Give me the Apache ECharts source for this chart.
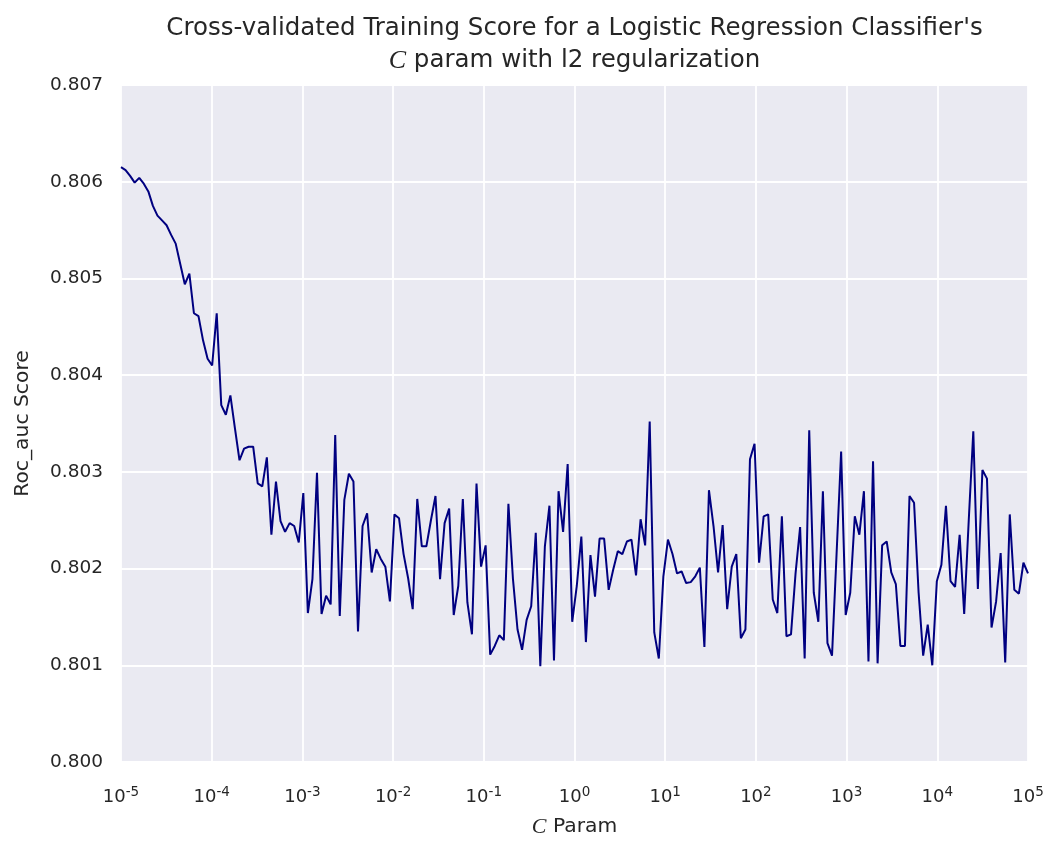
<!DOCTYPE html>
<html>
<head>
<meta charset="utf-8">
<script src="https://cdn.jsdelivr.net/npm/echarts@6/dist/echarts.min.js"></script>
<style>
html,body{margin:0;padding:0;background:#fff;}
#chart{width:1053px;height:843px;}
</style>
</head>
<body>
<div id="chart"></div>
<script>
// C parameter grid: np.logspace(-5, 5, 200)
const cExpMin = -5, cExpMax = 5, nPoints = 200;
const cParams = Array.from({length: nPoints}, (_, i) => Math.pow(10, cExpMin + (cExpMax - cExpMin) * i / (nPoints - 1)));

// Cross-validated roc_auc scores
const scores = [
0.80615,0.80612,0.80606,0.80599,0.80604,0.80598,0.80590,0.80575,0.80565,0.80560,
0.80555,0.80545,0.80536,0.80515,0.80494,0.80505,0.80464,0.80461,0.80436,0.80417,
0.80410,0.80464,0.80369,0.80359,0.80379,0.80345,0.80312,0.80324,0.80326,0.80326,
0.80288,0.80285,0.80315,0.80235,0.80290,0.80249,0.80238,0.80247,0.80244,0.80227,
0.80278,0.80154,0.80189,0.80299,0.80153,0.80172,0.80163,0.80338,0.80151,0.80271,
0.80298,0.80290,0.80135,0.80244,0.80257,0.80196,0.80220,0.80210,0.80202,0.80166,
0.80256,0.80252,0.80215,0.80190,0.80158,0.80272,0.80223,0.80223,0.80250,0.80275,
0.80189,0.80247,0.80262,0.80152,0.80182,0.80272,0.80165,0.80132,0.80288,0.80202,
0.80224,0.80111,0.80120,0.80131,0.80126,0.80267,0.80189,0.80137,0.80116,0.80147,
0.80161,0.80237,0.80099,0.80223,0.80265,0.80105,0.80280,0.80238,0.80308,0.80145,
0.80182,0.80233,0.80124,0.80214,0.80171,0.80231,0.80231,0.80178,0.80199,0.80218,
0.80215,0.80228,0.80230,0.80193,0.80251,0.80224,0.80352,0.80134,0.80107,0.80192,
0.80230,0.80215,0.80195,0.80197,0.80185,0.80186,0.80192,0.80201,0.80119,0.80281,
0.80244,0.80196,0.80245,0.80158,0.80202,0.80215,0.80128,0.80137,0.80313,0.80329,
0.80206,0.80254,0.80256,0.80168,0.80154,0.80254,0.80130,0.80132,0.80195,0.80243,
0.80107,0.80343,0.80175,0.80145,0.80280,0.80123,0.80110,0.80215,0.80321,0.80152,
0.80175,0.80254,0.80235,0.80280,0.80104,0.80311,0.80102,0.80224,0.80228,0.80196,
0.80184,0.80120,0.80120,0.80275,0.80268,0.80175,0.80110,0.80142,0.80100,0.80187,
0.80204,0.80265,0.80187,0.80181,0.80235,0.80153,0.80250,0.80342,0.80179,0.80302,
0.80293,0.80139,0.80166,0.80216,0.80103,0.80256,0.80178,0.80174,0.80206,0.80195
];

const yMin = 0.800, yMax = 0.807, yStep = 0.001;
const titleLine1 = "Cross-validated Training Score for a Logistic Regression Classifier's";
const titleLine2 = " param with l2 regularization";
const xName = " Param";
const yName = "Roc_auc Score";

const textColor = '#262626';
const font = 'DejaVu Sans';
const mathFont = 'Liberation Serif';

const chart = echarts.init(document.getElementById('chart'), null, {renderer: 'canvas'});
const gridL = 121, gridR = 25, gridT = 85, gridB = 80;
const plotCenterX = gridL + (1053 - gridL - gridR) / 2;

chart.setOption({
  backgroundColor: '#ffffff',
  animation: false,
  graphic: [
    {type: 'text', x: plotCenterX, y: 29, style: {text: titleLine1, fill: textColor, font: '24.5px "DejaVu Sans"', align: 'center', verticalAlign: 'middle'}},
    {type: 'text', x: plotCenterX, y: 61, style: {
      text: '{m|C}{t|' + titleLine2 + '}', align: 'center', verticalAlign: 'middle',
      rich: {
        m: {fontFamily: mathFont, fontStyle: 'italic', fontSize: 26, fill: textColor, color: textColor},
        t: {fontFamily: font, fontSize: 24.5, fill: textColor, color: textColor}
      }
    }}
  ],
  grid: {left: gridL, right: gridR, top: gridT, bottom: gridB, show: true, backgroundColor: '#EAEAF2', borderWidth: 0},
  xAxis: {
    type: 'log', logBase: 10, min: Math.pow(10, cExpMin), max: Math.pow(10, cExpMax), interval: 1,
    axisLine: {show: false}, axisTick: {show: false},
    splitLine: {show: true, lineStyle: {color: '#ffffff', width: 1.8}},
    minorSplitLine: {show: false},
    axisLabel: {
      margin: 23,
      formatter: function (v) {
        const e = Math.round(Math.log10(v));
        return '{b|10}{s|' + e + '}';
      },
      rich: {
        b: {fontFamily: font, fontSize: 18, color: textColor},
        s: {fontFamily: font, fontSize: 13.5, color: textColor, padding: [0, 0, 10, 0]}
      }
    },
    name: '{m|C}{t|' + xName + '}', nameLocation: 'middle', nameGap: 54,
    nameTextStyle: {
      rich: {
        m: {fontFamily: mathFont, fontStyle: 'italic', fontSize: 22, color: textColor},
        t: {fontFamily: font, fontSize: 20.3, color: textColor}
      }
    }
  },
  yAxis: {
    type: 'value', min: yMin, max: yMax, interval: yStep,
    axisLine: {show: false}, axisTick: {show: false},
    splitLine: {show: true, lineStyle: {color: '#ffffff', width: 1.8}},
    axisLabel: {margin: 18, fontFamily: font, fontSize: 18.5, color: textColor, formatter: v => v.toFixed(3)},
    name: yName, nameLocation: 'middle', nameGap: 88,
    nameTextStyle: {fontFamily: font, fontSize: 20.3, color: textColor}
  },
  series: [{
    type: 'line', showSymbol: false, symbol: 'none',
    data: cParams.map((c, i) => [c, scores[i]]),
    lineStyle: {color: '#000080', width: 2},
    itemStyle: {color: '#000080'}
  }]
});
</script>
</body>
</html>
